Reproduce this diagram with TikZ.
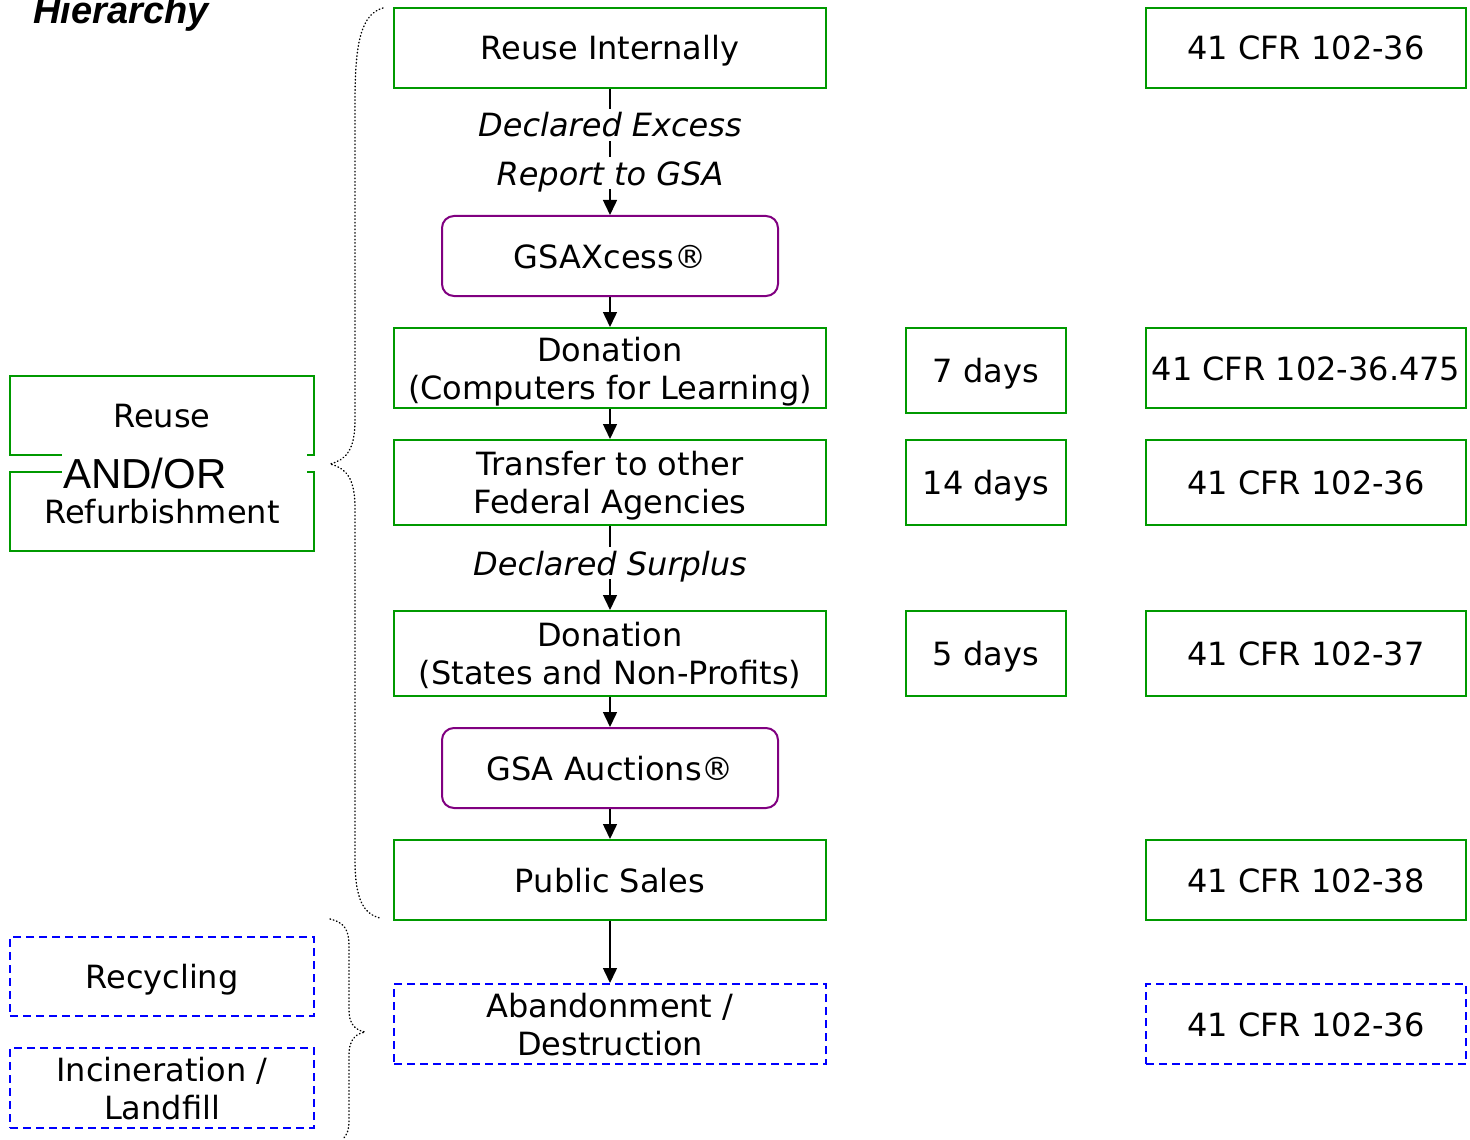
\documentclass[tikz,border=0pt]{standalone}
\usepackage{fontspec}
\setmainfont{DejaVu Sans}
\newfontfamily\arialfont{Liberation Sans}
\usepackage{tikz}
\usetikzlibrary{arrows.meta}
\definecolor{boxgreen}{RGB}{0,153,0}
\definecolor{boxpurple}{RGB}{128,0,128}
\definecolor{boxblue}{RGB}{0,0,255}

\begin{document}
\begin{tikzpicture}[x=0.5pt,y=-0.5pt,
    every node/.style={font=\fontsize{16}{19}\selectfont, align=center, inner sep=0pt},
    oneline/.style={text height=12pt, text depth=0pt},
    twoline/.style={text height=31pt, text depth=0pt},
    mainbox/.style={draw=boxgreen, line width=1pt, minimum width=216pt, minimum height=40pt},
    gsabox/.style={draw=boxpurple, line width=1pt, rounded corners=6pt, minimum width=168pt, minimum height=40pt},
    daybox/.style={draw=boxgreen, line width=1pt, minimum width=80pt, minimum height=42.5pt},
    cfrbox/.style={draw=boxgreen, line width=1pt, minimum width=160pt, minimum height=40pt},
    sidebox/.style={draw=boxgreen, line width=1pt, minimum width=152pt, minimum height=39.5pt},
    endbox/.style={draw=boxblue, line width=1pt, dash pattern=on 4pt off 2.5pt},
    steplabel/.style={font=\fontsize{16}{19}\selectfont\itshape, fill=white, inner sep=2pt, oneline},
    flow/.style={line width=0.75pt, -{Triangle[length=7.5pt,width=7pt]}},
    bracket/.style={line width=0.7pt, line cap=round, dash pattern=on 0.3pt off 1.4pt}]
        \useasboundingbox (0,0) rectangle (1470,1139);                          %
        \node at (121,14) {\arialfont\bfseries\itshape\fontsize{19}{19}\selectfont Hierarchy};
        % main column
        \node [mainbox, oneline] (intern) at (610,48)  {Reuse Internally};      %
        \node [gsabox, oneline]  (gsax)   at (610,256) {GSAXcess\textregistered};
        \node [mainbox, twoline] (don1)   at (610,368) {Donation\\(Computers for Learning)};
        \node [mainbox, twoline, minimum height=42.5pt] (trans) at (610,482.5) {Transfer to other\\Federal Agencies};
        \node [mainbox, twoline, minimum height=42.5pt] (don2)  at (610,653.5) {Donation\\(States and Non-Profits)};
        \node [gsabox, oneline]  (auct)   at (610,768) {GSA Auctions\textregistered};
        \node [mainbox, oneline] (sales)  at (610,880) {Public Sales};          %
        \node [mainbox, endbox, twoline] (aband) at (610,1024) {Abandonment /\\Destruction};
        % days column
        \node [daybox, oneline] (days7)  at (986,370.5) {7 days};               %
        \node [daybox, oneline] (days14) at (986,482.5) {14 days};              %
        \node [daybox, oneline] (days5)  at (986,653.5) {5 days};               %
        % regulations column
        \node [cfrbox, oneline] (cfrA) at (1306,48)  {41 CFR 102-36};           %
        \node [cfrbox, oneline] (cfrB) at (1306,368) {41 CFR 102-36.475};       %
        \node [cfrbox, oneline, minimum height=42.5pt] (cfrC) at (1306,482.5) {41 CFR 102-36};
        \node [cfrbox, oneline, minimum height=42.5pt] (cfrD) at (1306,653.5) {41 CFR 102-37};
        \node [cfrbox, oneline] (cfrE) at (1306,880) {41 CFR 102-38};           %
        \node [cfrbox, endbox, oneline] (cfrF) at (1306,1024) {41 CFR 102-36};  %
        % hierarchy column
        \node [sidebox, oneline] (reuse)  at (162,415.5) {Reuse};               %
        \node [sidebox, oneline] (refurb) at (162,511.5) {Refurbishment};       %
        \fill [white] (62,450) rectangle (307,478);                             %gap
        \node [font=\arialfont\fontsize{21}{21}\selectfont] (andor) at (145,473) {AND/OR};
        \node [sidebox, endbox, oneline] (recyc) at (162,976.5) {Recycling};    %
        \node [sidebox, endbox, twoline, minimum height=40pt] (incin) at (162,1088) {Incineration /\\Landfill};
        % flow
        \draw [flow] (intern) -- (gsax);                                        %
        \node [steplabel] (excess)  at (610,125) {Declared Excess};             %
        \node [steplabel] (report)  at (610,173) {Report to GSA};               %
        \draw [flow] (gsax)  -- (don1);                                         %
        \draw [flow] (don1)  -- (trans);                                        %
        \draw [flow] (trans) -- (don2);                                         %
        \node [steplabel] (surplus) at (610,563) {Declared Surplus};            %
        \draw [flow] (don2)  -- (auct);                                         %
        \draw [flow] (auct)  -- (sales);                                        %
        \draw [flow] (sales) -- (aband);                                        %
        % braces
        \draw [bracket] (383,8) .. controls (362,14) and (355,40) .. (355,100) -- (355,420)
              .. controls (355,450) and (346,460) .. (330,464)
              .. controls (346,468) and (355,478) .. (355,508) -- (355,860)
              .. controls (355,900) and (364,914) .. (380,918);
        \draw [bracket] (330,919) .. controls (344,922) and (349,930) .. (349,945) -- (349,1010)
              .. controls (349,1024) and (355,1030) .. (365,1032)
              .. controls (355,1034) and (349,1040) .. (349,1055) -- (349,1120)
              .. controls (349,1130) and (347,1135) .. (343,1139);
\end{tikzpicture}
\end{document}
